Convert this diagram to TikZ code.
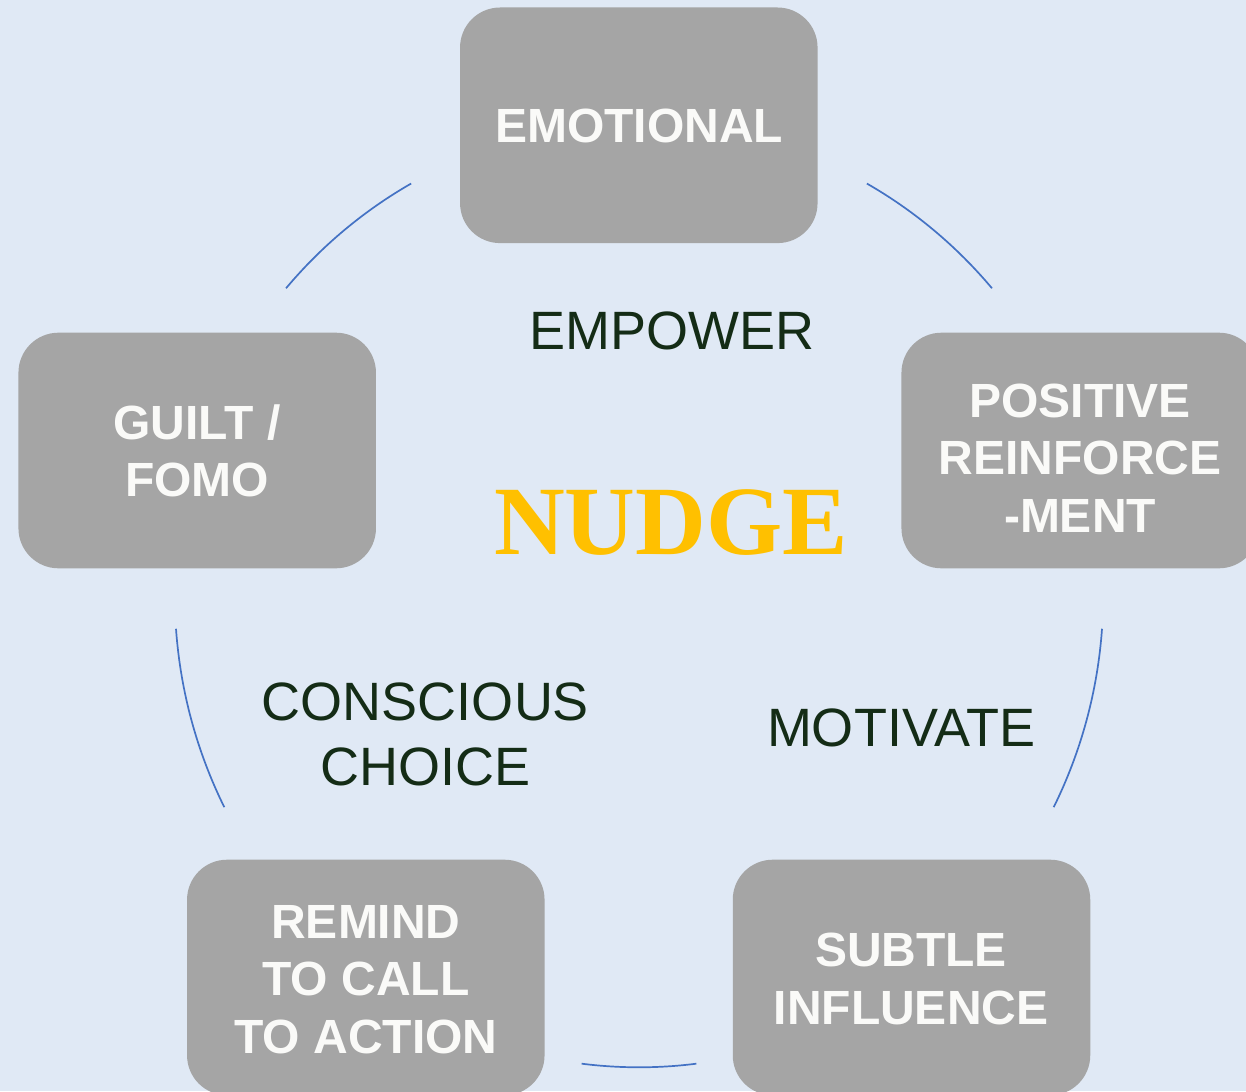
\documentclass[tikz,border=0pt]{standalone}
\usepackage{fontspec}
\setmainfont{Liberation Sans}
\newfontfamily\nudgefont{Liberation Serif}
\definecolor{bgcol}{HTML}{E0E9F5}
\definecolor{boxgray}{HTML}{A5A5A5}
\definecolor{boxtext}{HTML}{FAFAF8}
\definecolor{midtext}{HTML}{142C16}
\definecolor{arccol}{HTML}{4472C4}
\definecolor{gold}{HTML}{FFC000}
\begin{document}
\begin{tikzpicture}[x=1pt,y=-1pt,
  stagebox/.style={draw=none,fill=boxgray,rounded corners=40pt,minimum width=357.5pt,minimum height=235.6pt,inner sep=0pt},
  stagetext/.style={text=boxtext,align=center,inner sep=0pt,font=\fontsize{48}{57.5}\selectfont\bfseries},
  midlabel/.style={text=midtext,align=center,inner sep=0pt,font=\fontsize{54}{64.5}\selectfont},
  arcline/.style={draw=arccol,line width=1.7pt}]
\fill[bgcol] (0,0) rectangle (1246,1091);
\useasboundingbox (0,0) rectangle (1246,1091);
\clip (0,0) rectangle (1246,1091);

% boxes
\node[stagebox] (emo) at (638.8,125.3) {};
\node[stagebox] (pos) at (1080.2,450.5) {};
\node[stagebox] (sub) at (911.5,977.5) {};
\node[stagebox] (rem) at (365.8,977.5) {};
\node[stagebox] (gui) at (197.2,450.5) {};

% box texts
\node[stagetext] (emot) at (639,126) {EMOTIONAL};
\node[stagetext] (post) at (1080,458) {POSITIVE\\REINFORCE\\-MENT};
\node[stagetext] (subt) at (911,979) {SUBTLE\\INFLUENCE};
\node[stagetext] (remt) at (366,979.6) {REMIND\\TO CALL\\TO ACTION};
\node[stagetext] (guit) at (197,451) {GUILT /\\FOMO};

% middle texts
\node[midlabel] (empower) at (672,331) {EMPOWER};
\node[text=gold,inner sep=0pt,font=\fontsize{98}{112}\selectfont\nudgefont\bfseries] (nudge) at (671,523) {NUDGE};
\node[midlabel] (conscious) at (425.5,734.3) {CONSCIOUS\\CHOICE};
\node[midlabel] (motivate) at (901,727.5) {MOTIVATE};

% cycle arcs
\coordinate (ctr) at (639,595);
\draw[arcline] (ctr) ++(-119.4:464.2 and 472.3) arc[start angle=-119.4,end angle=-139.5,x radius=464.2,y radius=472.3];
\draw[arcline] (ctr) ++(-60.6:464.2 and 472.3) arc[start angle=-60.6,end angle=-40.5,x radius=464.2,y radius=472.3];
\draw[arcline] (ctr) ++(4.1:464.2 and 472.3) arc[start angle=4.1,end angle=26.7,x radius=464.2,y radius=472.3];
\draw[arcline] (ctr) ++(82.9:464.2 and 472.3) arc[start angle=82.9,end angle=97.1,x radius=464.2,y radius=472.3];
\draw[arcline] (ctr) ++(153.3:464.2 and 472.3) arc[start angle=153.3,end angle=175.9,x radius=464.2,y radius=472.3];
\end{tikzpicture}
\end{document}
